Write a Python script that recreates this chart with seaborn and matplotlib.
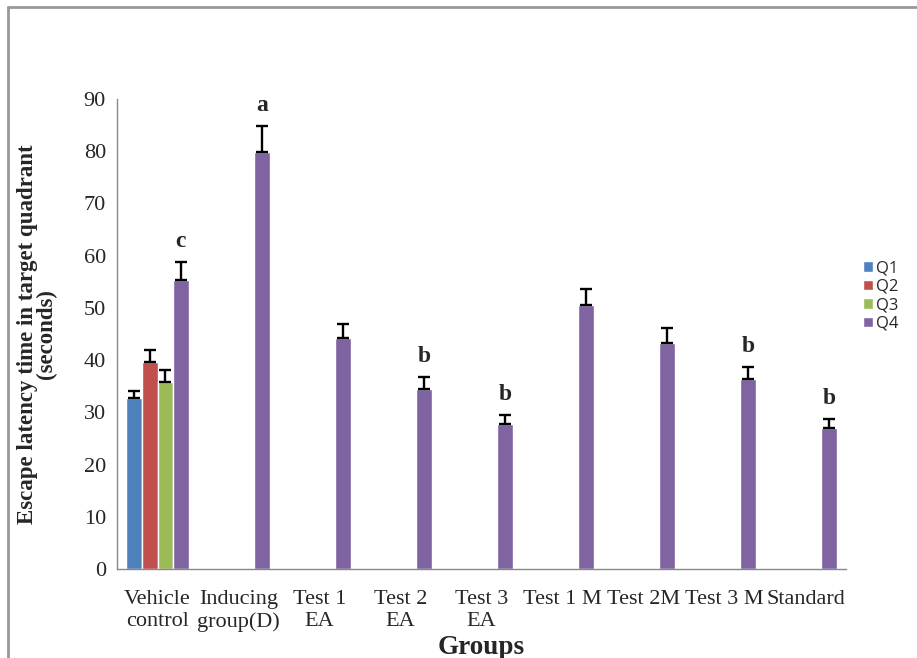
import numpy as np
import matplotlib
matplotlib.use("Agg")
import matplotlib.pyplot as plt
import pandas as pd
import seaborn as sns

groups = ["Vehicle\ncontrol", "Inducing\ngroup(D)", "Test 1\nEA", "Test 2\nEA", "Test 3\nEA",
          "Test 1 M", "Test 2M", "Test 3 M", "Standard"]
quadrants = ["Q1", "Q2", "Q3", "Q4"]
colors = ["#4F81BD", "#C0504D", "#9BBB59", "#8064A2"]

# Q1-Q3 only measured for vehicle control
q1 = [32.7, np.nan, np.nan, np.nan, np.nan, np.nan, np.nan, np.nan, np.nan]
q2 = [39.6, np.nan, np.nan, np.nan, np.nan, np.nan, np.nan, np.nan, np.nan]
q3 = [35.8, np.nan, np.nan, np.nan, np.nan, np.nan, np.nan, np.nan, np.nan]
q4 = [55.3, 79.9, 44.2, 34.5, 27.8, 50.6, 43.3, 36.4, 27.0]
q1_err = [1.4, np.nan, np.nan, np.nan, np.nan, np.nan, np.nan, np.nan, np.nan]
q2_err = [2.3, np.nan, np.nan, np.nan, np.nan, np.nan, np.nan, np.nan, np.nan]
q3_err = [2.3, np.nan, np.nan, np.nan, np.nan, np.nan, np.nan, np.nan, np.nan]
q4_err = [3.5, 5.0, 2.7, 2.3, 1.7, 3.0, 2.8, 2.3, 1.7]
q4_letters = ["c", "a", "", "b", "b", "", "", "b", "b"]

rows = []
for q, vals, errs in zip(quadrants, [q1, q2, q3, q4], [q1_err, q2_err, q3_err, q4_err]):
    for g, v, e in zip(groups, vals, errs):
        rows.append({"Group": g, "Quadrant": q, "Time": v, "Err": e})
df = pd.DataFrame(rows).dropna()

sns.set_style("white")
plt.rcParams["font.family"] = ["Liberation Serif", "DejaVu Serif"]

fig = plt.figure(figsize=(9.17, 6.58), dpi=100)
ax = fig.add_axes([0.1276, 0.1353, 0.795, 0.7142])

sns.barplot(data=df, x="Group", y="Time", hue="Quadrant", order=groups, hue_order=quadrants,
            palette=colors, width=0.77, saturation=1, errorbar=None, ax=ax)

# error bars (upper only) + significance letters, using the bar geometry
for q, cont in zip(quadrants, ax.containers):
    sub = df[df["Quadrant"] == q].set_index("Group")
    for bar in cont.patches:
        xc = bar.get_x() + bar.get_width() / 2
        g = groups[int(round(xc))]
        h = bar.get_height()
        e = sub.loc[g, "Err"]
        ax.errorbar(xc, h, yerr=[[0], [e]], fmt="none", ecolor="black", elinewidth=1.7,
                    capsize=4.5, capthick=1.7)
        if q == "Q4":
            lab = q4_letters[groups.index(g)]
            if lab:
                ax.annotate(lab, (xc, h + e), xytext=(0, 7), textcoords="offset points",
                            ha="center", va="bottom", fontsize=17, fontweight="bold")

ax.set_ylim(0, 90)
ax.set_yticks(range(0, 91, 10))
ax.set_xlim(-0.5, len(groups) - 0.5)
ax.set_xticks(range(len(groups)))
ax.set_xticklabels(groups, fontsize=16, linespacing=1.22)
ax.set_xticks(np.arange(-0.5, len(groups), 1), minor=True)
ax.tick_params(axis="x", which="major", length=0, pad=15)
ax.tick_params(axis="x", which="minor", length=6, color="#888888", direction="out")
ax.tick_params(axis="y", length=7, color="#888888", direction="out", labelsize=16, pad=1)

for s in ["top", "right"]:
    ax.spines[s].set_visible(False)
for s in ["left", "bottom"]:
    ax.spines[s].set_color("#888888")
    ax.spines[s].set_linewidth(1.0)

ax.set_ylabel("Escape latency time in target quadrant\n(seconds)", fontsize=16.5, fontweight="bold",
              linespacing=0.9)
ax.yaxis.set_label_coords(-0.082, 0.5)
ax.set_xlabel("Groups", fontsize=19.5, fontweight="bold")
ax.xaxis.set_label_coords(0.5, -0.14)

leg = ax.legend(loc="center left", bbox_to_anchor=(0.925, 0.55), bbox_transform=fig.transFigure,
                frameon=False, prop={"family": "Open Sans", "size": 12}, handlelength=0.6,
                handleheight=0.6, handletextpad=0.15, labelspacing=0.15)

# outer chart frame
fig.add_artist(plt.Line2D([0.009, 0.009], [0.0, 0.989], color="#999999", lw=2, transform=fig.transFigure))
fig.add_artist(plt.Line2D([0.009, 1.0], [0.989, 0.989], color="#999999", lw=2, transform=fig.transFigure))

fig.savefig("out.png", dpi=100)
